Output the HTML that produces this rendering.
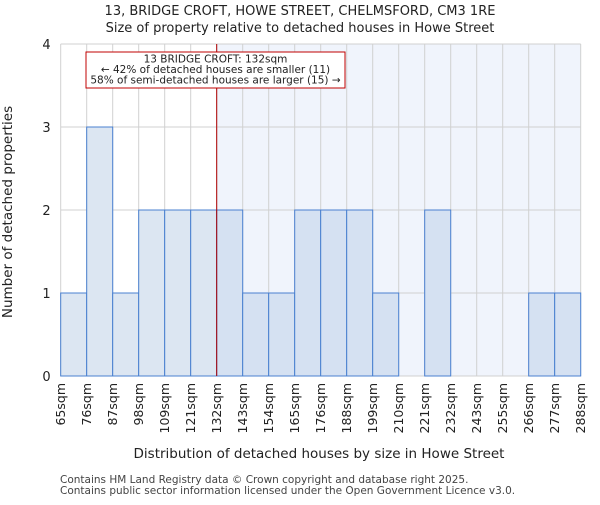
<!DOCTYPE html>
<html><head><meta charset="utf-8"><style>
body{margin:0;background:#fff;font-family:"Liberation Sans","DejaVu Sans",sans-serif}
</style></head><body>
<svg width="600" height="500" xmlns="http://www.w3.org/2000/svg" font-family="DejaVu Sans, Liberation Sans, sans-serif">
<text x="300" y="15" text-anchor="middle" font-size="13" fill="#222">13, BRIDGE CROFT, HOWE STREET, CHELMSFORD, CM3 1RE</text>
<text x="300" y="32" text-anchor="middle" font-size="13" fill="#222">Size of property relative to detached houses in Howe Street</text>
<g id="plot"></g>
<text x="319" y="458" text-anchor="middle" font-size="13.5" fill="#222">Distribution of detached houses by size in Howe Street</text>
<text transform="translate(12,212) rotate(-90)" text-anchor="middle" font-size="13.5" fill="#222">Number of detached properties</text>
<text x="60" y="483" font-size="10.5" fill="#444">Contains HM Land Registry data © Crown copyright and database right 2025.</text>
<text x="60" y="494" font-size="10.5" fill="#444">Contains public sector information licensed under the Open Government Licence v3.0.</text>
</svg>
<script>
const categories=["65sqm","76sqm","87sqm","98sqm","109sqm","121sqm","132sqm","143sqm","154sqm","165sqm","176sqm","188sqm","199sqm","210sqm","221sqm","232sqm","243sqm","255sqm","266sqm","277sqm","288sqm"];
const counts=[1,3,1,2,2,2,2,1,1,2,2,2,1,0,2,0,0,0,1,1];
const yTicks=[0,1,2,3,4];
const markerIndex=6;
const NS="http://www.w3.org/2000/svg";
const g=document.getElementById('plot');
const X0=60.7,BW=26,Y0=376,YU=83;
const xs=i=>X0+i*BW, ys=v=>Y0-v*YU;
function el(t,a){const e=document.createElementNS(NS,t);for(const k in a)e.setAttribute(k,a[k]);g.appendChild(e);return e;}
const W=counts.length*BW;
let r=el('rect',{x:xs(markerIndex),y:ys(4),width:xs(counts.length)-xs(markerIndex),height:4*YU,fill:'#f0f4fc'});


for(let i=0;i<=counts.length;i++){let l=el('line',{x1:xs(i),x2:xs(i),y1:ys(4),y2:Y0,stroke:'#d0d0d0','stroke-width':1});

}
yTicks.forEach(v=>{let l=el('line',{x1:X0,x2:X0+W,y1:ys(v),y2:ys(v),stroke:'#d0d0d0','stroke-width':1});


let t=el('text',{x:X0-10,y:ys(v)+5,'text-anchor':'end','font-size':13,fill:'#222'});t.textContent=v;

});
counts.forEach((c,i)=>{if(c<=0)return;let b=el('rect',{x:xs(i),y:ys(c),width:BW,height:c*YU,fill:i>=markerIndex?'#d5e1f2':'#dce6f2',stroke:'#4a80d0','stroke-width':1});

});
categories.forEach((c,i)=>{let t=el('text',{transform:`translate(${xs(i)+4.5},383) rotate(-90)`,'text-anchor':'end','font-size':12.5,fill:'#222'});t.textContent=c;

});
let m=el('line',{x1:xs(markerIndex),x2:xs(markerIndex),y1:ys(4),y2:Y0,stroke:'#b00000','stroke-width':1});


let bx=el('rect',{x:86,y:52,width:259,height:36,fill:'#fff',stroke:'#c00000','stroke-width':1});


["13 BRIDGE CROFT: 132sqm","← 42% of detached houses are smaller (11)","58% of semi-detached houses are larger (15) →"].forEach((s,k)=>{let t=el('text',{x:215.5,y:62.5+k*10.5,'text-anchor':'middle','font-size':10.5,fill:'#222'});t.textContent=s;

});
</script>
</body></html>
